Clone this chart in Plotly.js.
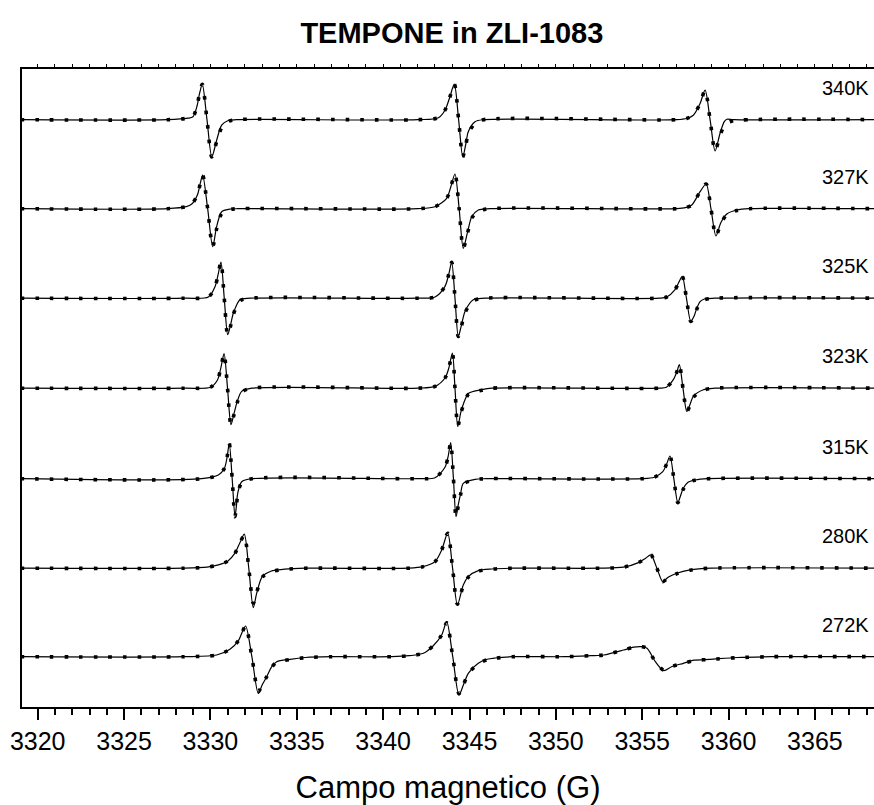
<!DOCTYPE html>
<html><head><meta charset="utf-8">
<script src="https://cdn.plot.ly/plotly-3.0.1.min.js"></script>
<style>html,body{margin:0;padding:0;background:#fff}#chart{width:874px;height:805px}</style>
</head><body><div id="chart"></div>
<script>
// Temperatures (one spectrum each), stacked from top to bottom
const temps = ['340K','327K','325K','323K','315K','280K','272K'];
// vertical offset of each spectrum baseline (arbitrary units)
const offsets = [537, 448, 358.5, 268.5, 178, 88.5, 0];

const field340 = [3319, 3327.5, 3328.7, 3328.99, 3329.21, 3329.38, 3329.53, 3329.8, 3330.08, 3330.36, 3330.65, 3331.0, 3331.5, 3342.0, 3343.2, 3343.58, 3343.85, 3344.12, 3344.37, 3344.61, 3344.78, 3344.93, 3345.32, 3345.8, 3357.0, 3357.6, 3357.96, 3358.35, 3358.64, 3358.93, 3359.22, 3359.5, 3359.75, 3359.9, 3360.3, 3368.5];
const exp340 = [0, 0, 1.5, 3, 12.8, 27, 35.5, 0, -37.2, -20.5, -5.5, -1, 0, 0, 2, 9.5, 22, 35.5, 0, -37.2, -25, -12, -2, 0, 0, 1.5, 4.5, 16.2, 29.5, 0, -31.2, -14, -2, 0.5, 0, 0];
const fit340 = [0, 0, 1.5, 3, 12.8, 27, 35.5, 0, -37.2, -22, -8, -2, 0, 0, 2, 9.5, 22, 35.5, 0, -37.2, -26, -14, -3.5, 0, 0, 1.5, 4.5, 16.2, 29.5, 0, -31.2, -16, -6, -3.5, -1, 0];

const field327 = [3319, 3327.5, 3328.6, 3328.92, 3329.25, 3329.42, 3329.55, 3329.84, 3330.13, 3330.36, 3330.65, 3331.1, 3331.6, 3342.0, 3343.0, 3343.68, 3343.92, 3344.16, 3344.4, 3344.64, 3344.88, 3345.13, 3345.51, 3346.2, 3357.0, 3357.5, 3357.87, 3358.35, 3358.7, 3358.98, 3359.27, 3359.55, 3359.9, 3360.48, 3361.2, 3368.5];
const exp327 = [0, 0, 2, 4.7, 14, 26, 33.7, 0, -38, -18, -3, -0.5, 0, 0, 2, 10.4, 22, 34.7, 0, -39.6, -24, -8, -1.3, 0, 0, 1, 3.7, 17, 24.7, 0, -27.3, -14, -5.3, -1.3, 0, 0];
const fit327 = [0, 0, 2, 4.7, 14, 26, 33.7, 0, -38, -20, -5, -1, 0, 0, 2, 10.4, 22, 34.7, 0, -39.6, -25, -9.5, -2.5, 0, 0, 1, 3.7, 17, 24.7, 0, -27.3, -15, -6, -1.8, 0, 0];

const field325 = [3319, 3328.5, 3329.88, 3330.27, 3330.45, 3330.61, 3330.8, 3331.0, 3331.15, 3331.33, 3331.71, 3332.3, 3342.0, 3343.0, 3343.58, 3343.8, 3343.97, 3344.16, 3344.35, 3344.52, 3344.74, 3345.22, 3345.9, 3356.0, 3356.42, 3356.9, 3357.12, 3357.32, 3357.56, 3357.81, 3358.0, 3358.16, 3358.35, 3358.6, 3359.2, 3368.5];
const exp325 = [0, 0, 1.2, 11.8, 24, 36.2, 0, -36.5, -28, -14.8, -1.5, 0, 0, 1.2, 11.8, 24, 35.8, 0, -38.2, -28, -13.2, -1.5, 0, 0, 1.2, 8.5, 16, 21.8, 0, -23.2, -18, -10, -3.5, -0.8, 0, 0];
const fit325 = [0, 0, 1.2, 11.8, 24, 36.2, 0, -36.5, -29, -16, -2.5, 0, 0, 1.2, 11.8, 24, 35.8, 0, -38.2, -29, -14.5, -2.5, 0, 0, 1.2, 8.5, 16, 21.8, 0, -23.2, -19, -11, -4.5, -1.5, 0, 0];

const field323 = [3319, 3328.5, 3330.0, 3330.4, 3330.6, 3330.79, 3330.99, 3331.19, 3331.37, 3331.54, 3331.81, 3332.4, 3342.0, 3343.0, 3343.58, 3343.8, 3344.01, 3344.16, 3344.32, 3344.5, 3344.74, 3344.95, 3345.71, 3346.3, 3356.0, 3356.4, 3356.8, 3357.0, 3357.15, 3357.36, 3357.58, 3357.75, 3357.96, 3358.54, 3359.2, 3368.5];
const exp323 = [0, 0, 1, 8, 20, 34.5, 0, -36.5, -25, -14, -3.2, 0, 0, 1.8, 10.2, 20, 35.2, 0, -38.2, -24, -11.5, -5, -1.5, 0, 0, 1, 8.5, 16, 23.5, 0, -23.2, -17, -8.2, -1.5, 0, 0];
const fit323 = [0, 0, 1, 8, 20, 34.5, 0, -36.5, -26, -15, -4, 0, 0, 1.8, 10.2, 20, 35.2, 0, -38.2, -25, -12.5, -6, -2, 0, 0, 1, 8.5, 16, 23.5, 0, -23.2, -18, -9, -2, 0, 0];

const field315 = [3319, 3329.5, 3330.46, 3330.81, 3330.97, 3331.09, 3331.26, 3331.42, 3331.5, 3331.58, 3331.81, 3332.4, 3342.0, 3343.0, 3343.58, 3343.76, 3343.91, 3344.07, 3344.22, 3344.35, 3344.49, 3344.64, 3345.32, 3346.0, 3355.0, 3355.7, 3356.19, 3356.42, 3356.61, 3356.83, 3357.06, 3357.2, 3357.38, 3357.65, 3358.06, 3358.8, 3368.5];
const exp315 = [0, 0, 3.7, 10.4, 22, 35.4, 0, -38, -28, -14.6, -3, 0, 0, 1, 11.4, 22, 36, 0, -38, -26, -14.6, -4.6, -0.6, 0, 0, 1.5, 7, 15, 22.7, 0, -24, -18, -9.6, -3.5, -1.3, 0, 0];
const fit315 = [0, 0, 3.7, 10.4, 22, 35.4, 0, -38, -29, -16, -4, 0, 0, 1, 11.4, 22, 36, 0, -38, -27, -15.5, -5.5, -1, 0, 0, 1.5, 7, 15, 22.7, 0, -24, -19, -10.5, -4, -1.5, 0, 0];

const field280 = [3319, 3328.5, 3329.8, 3330.46, 3331.0, 3331.42, 3331.72, 3331.96, 3332.22, 3332.48, 3332.68, 3333.0, 3333.5, 3334.3, 3335.5, 3341.5, 3342.3, 3343.0, 3343.39, 3343.74, 3344.02, 3344.3, 3344.64, 3344.93, 3345.51, 3346.3, 3347.5, 3352.5, 3353.91, 3354.78, 3355.2, 3355.5, 3355.85, 3356.19, 3356.5, 3357.0, 3357.77, 3359.0, 3368.5];
const exp280 = [0, 0, 1, 3.3, 7, 15, 26, 34, 0, -39.4, -25, -8.4, -3, -1, 0, 0, 1.5, 6.6, 18.3, 35, 0, -36.7, -16.7, -8.4, -2.4, -0.8, 0, 0, 1, 5.6, 10, 13.3, 0, -13.4, -9, -5, -1.7, 0, 0];
const fit280 = [0, 0, 1, 3.3, 7, 15, 26, 33, 0, -35, -24, -9, -3.5, -1.2, 0, 0, 1.5, 6.6, 18.3, 35, 0, -36, -17.5, -9, -3, -1, 0, 0, 1, 5.6, 10, 13.3, 0, -13.4, -9.5, -5.5, -2, 0, 0];

const field272 = [3319, 3328.5, 3330.36, 3331.13, 3331.62, 3331.85, 3332.04, 3332.4, 3332.77, 3333.0, 3333.26, 3333.55, 3333.84, 3334.61, 3335.5, 3337.0, 3340.5, 3341.5, 3342.33, 3342.9, 3343.39, 3343.68, 3344.03, 3344.39, 3344.65, 3344.93, 3345.51, 3346.02, 3346.48, 3347.5, 3350.5, 3352.0, 3352.77, 3353.93, 3354.5, 3354.97, 3355.28, 3355.76, 3356.25, 3356.7, 3357.38, 3358.0, 3358.93, 3360.5, 3362.5, 3368.5];
const exp272 = [0, 0, 1.7, 7.4, 16, 25, 30.7, 0, -36.6, -28, -20, -10, -5, -2.6, -0.8, 0, 0, 1, 3.4, 11, 21.7, 35, 0, -38.3, -28, -16.6, -6.6, -2.6, -1.3, 0, 0, 1, 1.7, 6.7, 9.5, 10, 8.4, -5, -14, -10, -6.6, -3.5, -2.6, -0.8, 0, 0];
const fit272 = [0, 0, 1.7, 7.4, 16, 25, 30.7, 0, -35, -28, -20, -10.5, -5.5, -2.8, -1, 0, 0, 1, 3.4, 11, 21.7, 34, 0, -37, -28, -17, -7, -3, -1.5, 0, 0, 1, 1.7, 6.7, 9.5, 10, 8.4, -5, -13.5, -10, -6.6, -3.8, -2.8, -1, 0, 0];

const xTicks = [3320, 3325, 3330, 3335, 3340, 3345, 3350, 3355, 3360, 3365];

const fields = [field340, field327, field325, field323, field315, field280, field272];
const exps = [exp340, exp327, exp325, exp323, exp315, exp280, exp272];
const fits = [fit340, fit327, fit325, fit323, fit315, fit280, fit272];

const xRange = [3319.09, 3368.42];
const traces = [];
temps.forEach((t, i) => {
  traces.push({
    x: fields[i], y: fits[i].map(v => v + offsets[i]), mode: 'lines', name: t + ' fit',
    line: {color: '#000', width: 3.6, dash: '3.6px,11px', shape: 'spline', smoothing: 0.8}
  });
  traces.push({
    x: fields[i], y: exps[i].map(v => v + offsets[i]), mode: 'lines', name: t,
    line: {color: '#000', width: 1.2, shape: 'spline', smoothing: 0.8}
  });
});
traces.push({x: [xTicks[0]], y: [null], xaxis: 'x2', yaxis: 'y', mode: 'lines', showlegend: false});

const layout = {
  width: 874, height: 805,
  margin: {l: 22, r: 0, t: 69, b: 98, pad: 0},
  paper_bgcolor: '#fff', plot_bgcolor: '#fff',
  showlegend: false,
  font: {family: '"Liberation Sans", Arial, sans-serif', color: '#000'},
  title: {text: 'TEMPONE in ZLI-1083', font: {size: 29, weight: 'bold', color: '#000'},
          xref: 'container', x: 0.517, xanchor: 'center', yref: 'container', y: 1 - 33 / 805, yanchor: 'middle'},
  xaxis: {
    range: xRange, tickvals: xTicks, ticktext: xTicks.map(String),
    ticks: 'outside', ticklen: 11, tickwidth: 2, tickcolor: '#000',
    showline: true, linewidth: 2, linecolor: '#000', showgrid: false, zeroline: false,
    tickfont: {size: 25, color: '#000'},
    minor: {tick0: 3320, dtick: 1, ticks: 'outside', ticklen: 6, tickwidth: 2, tickcolor: '#000', showgrid: false},
    title: {text: 'Campo magnetico (G)', font: {size: 31, color: '#000'}, standoff: 23}
  },
  xaxis2: {
    overlaying: 'x', side: 'top', range: xRange, tick0: 3320, dtick: 1,
    ticks: 'outside', ticklen: 3, tickwidth: 1, tickcolor: '#000',
    showline: true, linewidth: 2, linecolor: '#000', showticklabels: false, showgrid: false, zeroline: false
  },
  yaxis: {
    range: [-50.3, 587.7], showline: true, linewidth: 2, linecolor: '#000',
    ticks: '', showticklabels: false, showgrid: false, zeroline: false
  },
  annotations: temps.map((t, i) => ({
    xref: 'paper', x: 1, xanchor: 'right', xshift: -3, yref: 'y', y: offsets[i] + 32, yanchor: 'middle',
    text: t, showarrow: false, font: {size: 20, color: '#000'}
  }))
};
Plotly.newPlot('chart', traces, layout, {staticPlot: true});
</script>
</body></html>
